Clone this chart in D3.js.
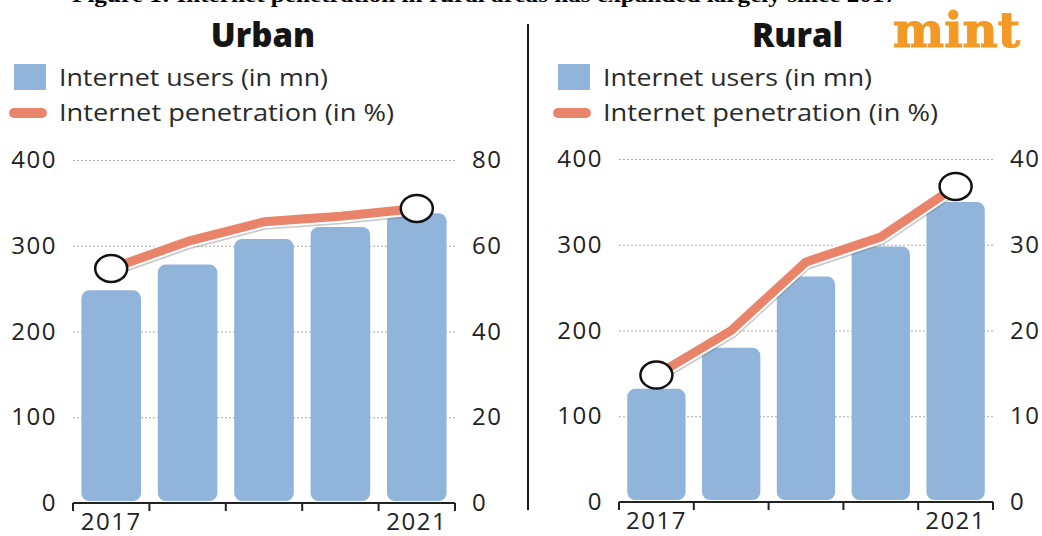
<html>
<head>
<meta charset="utf-8">
<script src="https://d3js.org/d3.v7.min.js"></script>
<style>
  body { margin: 0; background: #fff; }
  svg { display: block; }
</style>
</head>
<body>
<svg width="1042" height="536"></svg>
<script>
// data
var years = [2017, 2018, 2019, 2020, 2021];
var tickLabels = ["2017", "", "", "", "2021"];
var urbanUsers = [248, 278, 308, 322, 338];
var urbanPen = [54.7, 61, 65.6, 66.9, 68.7];
var ruralUsers = [132, 180, 263, 298, 350];
var ruralPen = [14.8, 20.0, 28.0, 30.9, 36.8];
var leftTicks = [0, 100, 200, 300, 400];
var urbanRightTicks = [0, 20, 40, 60, 80];
var ruralRightTicks = [0, 10, 20, 30, 40];

var barColor = "#91b4db";
var lineColor = "#e9846b";
var font = "'Open Sans', sans-serif";

var svg = d3.select("svg");

// caption cut off at the top of the picture
svg.append("text")
    .attr("x", 72).attr("y", 2)
    .attr("font-family", "'Liberation Serif', serif")
    .attr("font-weight", "bold")
    .attr("font-size", 21)
    .attr("textLength", 825)
    .attr("lengthAdjust", "spacingAndGlyphs")
    .text("Figure 1: Internet penetration in rural areas has expanded largely since 2017");

// divider
svg.append("line")
    .attr("x1", 528).attr("x2", 528).attr("y1", 24).attr("y2", 510)
    .attr("stroke", "#1a1a1a").attr("stroke-width", 2);

function panel(opt) {
    var g = svg.append("g");

    var x = d3.scaleBand().domain(years).range(opt.xr).paddingInner(0.22).paddingOuter(0.11);
    var y = d3.scaleLinear().domain([0, 400]).range(opt.yr);
    var y2 = d3.scaleLinear().domain([0, opt.rmax]).range(opt.yr);

    // title
    g.append("text")
        .attr("x", opt.titleX).attr("y", 47)
        .attr("text-anchor", opt.titleAnchor)
        .attr("font-family", font).attr("font-weight", 800).attr("font-size", 33)
        .attr("fill", "#151515")
        .text(opt.title);

    // legend
    g.append("rect").attr("x", opt.legX).attr("y", 64).attr("width", 32).attr("height", 26)
        .attr("fill", barColor);
    g.append("line").attr("x1", opt.legX).attr("x2", opt.legX + 28).attr("y1", 113).attr("y2", 113)
        .attr("stroke", lineColor).attr("stroke-width", 10).attr("stroke-linecap", "round");
    g.append("text").attr("x", opt.legX + 45).attr("y", 86)
        .attr("font-family", font).attr("font-size", 24).attr("fill", "#2a2a2a")
        .attr("textLength", 269).attr("lengthAdjust", "spacingAndGlyphs")
        .text("Internet users (in mn)");
    g.append("text").attr("x", opt.legX + 45).attr("y", 121)
        .attr("font-family", font).attr("font-size", 24).attr("fill", "#2a2a2a")
        .attr("textLength", 335).attr("lengthAdjust", "spacingAndGlyphs")
        .text("Internet penetration (in %)");

    // dotted gridlines
    var grid = g.append("g")
        .attr("transform", "translate(" + opt.xr[0] + ",0)")
        .call(d3.axisLeft(y).tickValues(leftTicks.slice(1)).tickSize(-(opt.xr[1] - opt.xr[0])).tickFormat(""));
    grid.select(".domain").remove();
    grid.selectAll("line").attr("stroke", "#aaa").attr("stroke-width", 1).attr("stroke-dasharray", "2,2");

    // left axis labels
    var la = g.append("g")
        .attr("transform", "translate(" + opt.xr[0] + ",0)")
        .call(d3.axisLeft(y).tickValues(leftTicks).tickSize(0).tickPadding(16));
    la.select(".domain").remove();
    la.selectAll("text").attr("font-family", font).attr("font-size", 24).attr("fill", "#222")
        .attr("letter-spacing", 1.5);

    // right axis labels
    var ra = g.append("g")
        .attr("transform", "translate(" + opt.xr[1] + ",0)")
        .call(d3.axisRight(y2).tickValues(opt.rticks).tickSize(0).tickPadding(17));
    ra.select(".domain").remove();
    ra.selectAll("text").attr("font-family", font).attr("font-size", 24).attr("fill", "#222")
        .attr("letter-spacing", 1.5);

    // bars
    g.append("g").selectAll("rect")
        .data(opt.users)
        .join("rect")
        .attr("x", (d, i) => x(years[i]))
        .attr("y", d => y(d))
        .attr("width", x.bandwidth())
        .attr("height", d => y(0) - 2 - y(d))
        .attr("rx", 8)
        .attr("fill", barColor);

    // baseline with ticks at band edges
    var base = g.append("g").attr("transform", "translate(0," + y(0) + ")");
    base.append("line").attr("x1", opt.xr[0]).attr("x2", opt.xr[1])
        .attr("stroke", "#222").attr("stroke-width", 2);
    base.selectAll(".tk")
        .data(d3.range(years.length + 1))
        .join("line")
        .attr("class", "tk")
        .attr("x1", i => opt.xr[0] + i * x.step())
        .attr("x2", i => opt.xr[0] + i * x.step())
        .attr("y1", 0).attr("y2", 8)
        .attr("stroke", "#222").attr("stroke-width", 2);

    var xa = g.append("g").attr("transform", "translate(0," + y(0) + ")")
        .call(d3.axisBottom(x).tickSize(0).tickPadding(10).tickFormat((d, i) => tickLabels[i]));
    xa.select(".domain").remove();
    xa.selectAll("text").attr("font-family", font).attr("font-size", 24).attr("fill", "#222")
        .attr("letter-spacing", 1.5);

    // penetration line
    var line = d3.line()
        .x((d, i) => x(years[i]) + x.bandwidth() / 2)
        .y(d => y2(d));
    g.append("path").datum(opt.pen).attr("d", line)
        .attr("transform", "translate(1,3)")
        .attr("fill", "none").attr("stroke", "#777").attr("stroke-opacity", 0.4)
        .attr("stroke-width", 10).attr("stroke-linejoin", "round");
    g.append("path").datum(opt.pen).attr("d", line)
        .attr("fill", "none").attr("stroke", "#fff").attr("stroke-width", 13)
        .attr("stroke-linejoin", "round");
    g.append("path").datum(opt.pen).attr("d", line)
        .attr("fill", "none").attr("stroke", lineColor).attr("stroke-width", 9)
        .attr("stroke-linejoin", "round");

    // end markers
    var ends = [0, opt.pen.length - 1];
    g.selectAll(".end")
        .data(ends)
        .join("ellipse")
        .attr("class", "end")
        .attr("cx", i => x(years[i]) + x.bandwidth() / 2)
        .attr("cy", i => y2(opt.pen[i]))
        .attr("rx", 16).attr("ry", 13.5)
        .attr("fill", "#fff").attr("stroke", "#111").attr("stroke-width", 2.5);
}

panel({
    title: "Urban", titleX: 263, titleAnchor: "middle",
    legX: 14,
    xr: [73, 455], yr: [503, 160],
    rmax: 80, rticks: urbanRightTicks,
    users: urbanUsers, pen: urbanPen
});

panel({
    title: "Rural", titleX: 752, titleAnchor: "start",
    legX: 558,
    xr: [619, 993], yr: [502, 159],
    rmax: 40, rticks: ruralRightTicks,
    users: ruralUsers, pen: ruralPen
});

// mint logo
svg.append("text")
    .attr("x", 893).attr("y", 47)
    .attr("font-family", "'DejaVu Serif', serif").attr("font-weight", "bold").attr("font-size", 48)
    .attr("textLength", 127).attr("lengthAdjust", "spacingAndGlyphs")
    .attr("fill", "#f39a26")
    .attr("stroke", "#f39a26").attr("stroke-width", 1.2)
    .text("mint");
</script>
</body>
</html>
